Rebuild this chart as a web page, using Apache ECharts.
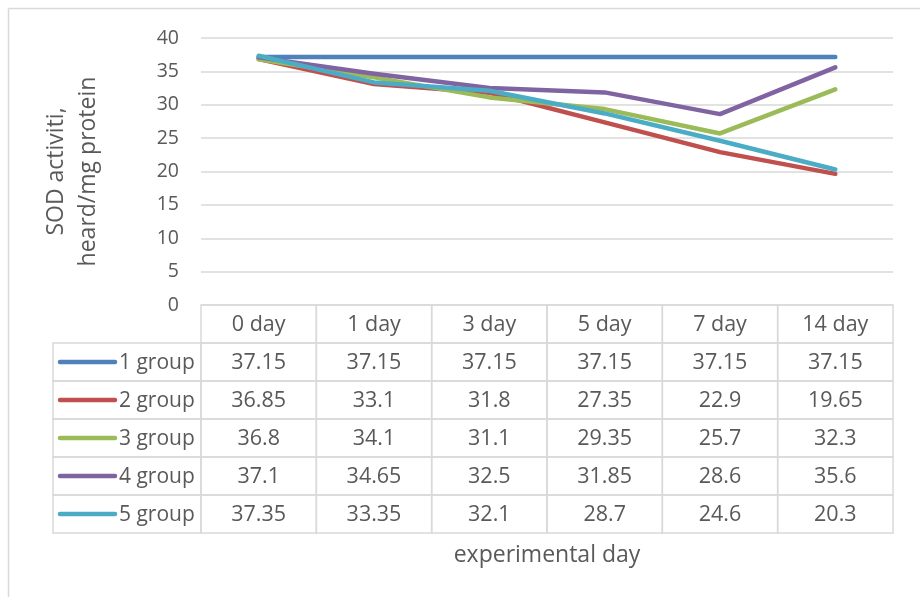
<!DOCTYPE html>
<html>
<head>
<meta charset="utf-8">
<script src="https://cdn.jsdelivr.net/npm/echarts@6/dist/echarts.min.js"></script>
<style>
  html, body { margin: 0; padding: 0; background: #ffffff; }
  #chart { width: 920px; height: 597px; }
</style>
</head>
<body>
<div id="chart"></div>
<script>
const days = ['0 day', '1 day', '3 day', '5 day', '7 day', '14 day'];
const groupNames = ['1 group', '2 group', '3 group', '4 group', '5 group'];
const group1 = [37.15, 37.15, 37.15, 37.15, 37.15, 37.15];
const group2 = [36.85, 33.1, 31.8, 27.35, 22.9, 19.65];
const group3 = [36.8, 34.1, 31.1, 29.35, 25.7, 32.3];
const group4 = [37.1, 34.65, 32.5, 31.85, 28.6, 35.6];
const group5 = [37.35, 33.35, 32.1, 28.7, 24.6, 20.3];
const yTicks = [0, 5, 10, 15, 20, 25, 30, 35, 40];

const groups = [group1, group2, group3, group4, group5];
const colors = ['#4f81bd', '#c0504d', '#9bbb59', '#8064a2', '#4bacc6'];
const FONT = '"Open Sans", "Noto Sans", sans-serif';
const TXT = '#595959';
const BORDER = '#d9d9d9';

// table cells: [col, row], with parallel meta
const tableData = [];
const tableMeta = [];
days.forEach((d, c) => { tableData.push([c, 0]); tableMeta.push({ kind: 'cell', text: d, size: 21.5 }); });
groups.forEach((g, r) => {
  tableData.push([0, r + 1]); tableMeta.push({ kind: 'legend', text: groupNames[r], color: colors[r] });
  g.forEach((v, c) => { tableData.push([c, r + 1]); tableMeta.push({ kind: 'cell', text: String(v), size: 21.5 }); });
});

const chart = echarts.init(document.getElementById('chart'), null, { renderer: 'canvas' });
chart.setOption({
  animation: false,
  backgroundColor: '#ffffff',
  textStyle: { fontFamily: FONT },
  graphic: [
    { type: 'line', shape: { x1: 8.5, y1: 8.5, x2: 920, y2: 8.5 }, style: { stroke: BORDER, lineWidth: 1.5 } },
    { type: 'line', shape: { x1: 8.5, y1: 8.5, x2: 8.5, y2: 597 }, style: { stroke: BORDER, lineWidth: 1.5 } }
  ],
  grid: [
    { left: 201, right: 27, top: 38, bottom: 292 },
    { left: 201, right: 27, top: 305, height: 228 }
  ],
  xAxis: [
    {
      type: 'category', gridIndex: 0, data: days, boundaryGap: true,
      axisLine: { show: false }, axisTick: { show: false }, axisLabel: { show: false }, splitLine: { show: false }
    },
    {
      type: 'category', gridIndex: 1, data: days, boundaryGap: true,
      name: 'experimental day', nameLocation: 'middle', nameGap: 11,
      nameTextStyle: { color: TXT, fontSize: 23, fontFamily: FONT },
      axisLine: { show: false }, axisTick: { show: false }, axisLabel: { show: false }, splitLine: { show: false }
    }
  ],
  yAxis: [
    {
      type: 'value', gridIndex: 0, min: 0, max: 40, interval: 5,
      name: 'SOD activiti,\nheard/mg protein', nameLocation: 'middle', nameGap: 97,
      nameTextStyle: { color: TXT, fontSize: 23, lineHeight: 32, fontFamily: FONT },
      axisLine: { show: false }, axisTick: { show: false },
      axisLabel: { color: TXT, fontSize: 19.5, margin: 22, fontFamily: FONT,
        formatter: v => yTicks.includes(v) ? String(v) : '' },
      splitLine: { lineStyle: { color: BORDER, width: 1.5 } }
    },
    {
      type: 'category', gridIndex: 1, inverse: true, data: [0, 1, 2, 3, 4, 5], boundaryGap: true,
      axisLine: { show: false }, axisTick: { show: false }, axisLabel: { show: false }, splitLine: { show: false }
    }
  ],
  series: groups.map((g, i) => ({
    type: 'line', name: groupNames[i], xAxisIndex: 0, yAxisIndex: 0, data: g,
    showSymbol: false, symbol: 'none', smooth: false,
    lineStyle: { color: colors[i], width: 4.5, cap: 'round', join: 'round' },
    itemStyle: { color: colors[i] }
  })).concat([{
    type: 'custom', xAxisIndex: 1, yAxisIndex: 1, clip: false, silent: true,
    data: tableData,
    renderItem: function (params, api) {
      const meta = tableMeta[params.dataIndex];
      const c = api.coord([api.value(0), api.value(1)]);
      const sz = api.size([1, 1]);
      const w = sz[0], h = sz[1];
      if (meta.kind === 'cell') {
        return { type: 'group', children: [
          { type: 'rect', shape: { x: c[0] - w / 2, y: c[1] - h / 2, width: w, height: h },
            style: { fill: null, stroke: BORDER, lineWidth: 1.5 } },
          { type: 'text', style: { text: meta.text, x: c[0], y: c[1] + 1, align: 'center', verticalAlign: 'middle',
            fill: TXT, fontSize: meta.size, fontFamily: FONT } }
        ]};
      }
      const x1 = c[0] - w / 2, x0 = x1 - 148;
      return { type: 'group', children: [
        { type: 'rect', shape: { x: x0, y: c[1] - h / 2, width: 148, height: h },
          style: { fill: null, stroke: BORDER, lineWidth: 1.5 } },
        { type: 'line', shape: { x1: x0 + 7, y1: c[1], x2: x0 + 62, y2: c[1] },
          style: { stroke: meta.color, lineWidth: 4.5, lineCap: 'round' } },
        { type: 'text', style: { text: meta.text, x: x0 + 66, y: c[1] + 1, align: 'left', verticalAlign: 'middle',
          fill: TXT, fontSize: 21, fontFamily: FONT } }
      ]};
    }
  }])
});
</script>
</body>
</html>
